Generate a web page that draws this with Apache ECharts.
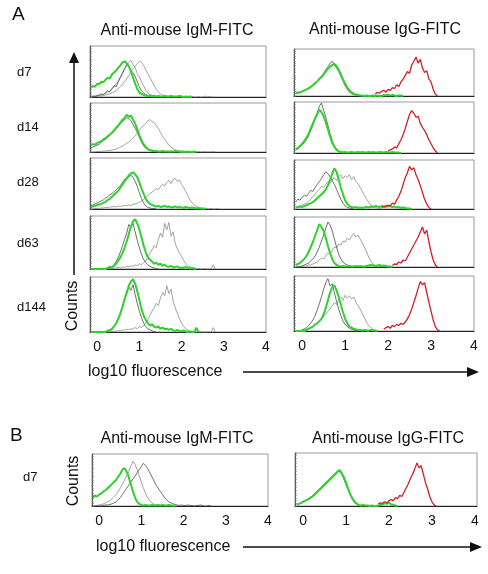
<!DOCTYPE html>
<html><head><meta charset="utf-8">
<script src="https://cdn.jsdelivr.net/npm/echarts@6/dist/echarts.min.js"></script>
<style>html,body{margin:0;padding:0;background:#fff}#c{width:488px;height:574px}</style>
</head><body><div id="c"></div>
<script>
// ---------- data (histogram heights, % of panel height; bins of 0.05 log10 units) ----------
const STEP = 0.05;
const GS = -0.15;               // first bin of green / gray arrays
const xTicks = [0, 1, 2, 3, 4];
const rowLabels = ['d7', 'd14', 'd28', 'd63', 'd144'];
const titles = ['Anti-mouse IgM-FITC', 'Anti-mouse IgG-FITC'];

// IgM panels (A, left column)
const igmD7Green = [18,22,20,26,25,30,29,34,38,36,44,48,52,57,62,68,70,66,60,50,38,26,16,9,6,4,3,2,3,1,2,1,2,1,1,2,1,1,2,1,1,1,2,1,0,1,0,1,0];
const igmD7GrayA = [1,2,1,3,4,6,5,9,12,10,16,22,20,30,38,46,55,64,60,52,48,40,30,20,12,8,5,3,2,1,2,1,0];
const igmD7GrayB = [0,1,2,2,3,4,5,7,9,12,16,20,26,32,40,48,56,62,68,72,64,58,46,40,30,22,14,8,5,3,2,1,1,0];
const igmD7GrayC = [0,0,1,1,2,2,3,4,5,6,8,10,13,16,20,25,30,36,42,50,56,60,66,70,68,62,54,46,38,30,22,15,10,6,4,3,2,1,2,1,1,1,2,1,0,1,1,0,1,0,0,1,0,0,2,0,1,0,0];

const igmD14Green = [14,16,15,18,20,22,26,28,32,36,40,44,50,54,60,66,70,76,72,74,66,58,46,34,24,16,10,6,4,3,2,2,1,1,2,1,1,1,1,1,2,1,1,0,1,0,1,0,0,1,0];
const igmD14GrayA = [8,10,12,14,16,20,24,26,30,34,38,42,48,52,58,62,66,70,68,64,56,48,40,30,20,12,8,5,3,2,1,1,0];
const igmD14GrayB = [0,0,0,1,1,1,2,2,3,3,4,5,6,8,10,12,15,18,20,24,28,34,38,44,50,54,58,64,66,62,60,54,48,40,32,26,20,14,10,7,5,3,2,2,1,1,1,0,1,0,0,1,0,0,1,0,0,0,1,0];

const igmD28Green = [4,5,6,8,9,10,12,14,18,20,24,28,32,36,42,48,54,60,64,70,72,68,62,52,40,30,20,14,10,8,6,5,6,4,5,6,4,5,3,4,5,3,4,3,2,4,3,2,3,2,1,2,1,1,0];
const igmD28GrayA = [6,8,10,12,14,16,18,22,24,28,30,34,38,42,46,52,58,62,68,66,62,54,44,32,20,12,6,3,2,1,1,0];
const igmD28GrayB = [0,0,1,1,1,2,2,3,3,4,4,5,4,6,5,6,7,6,8,7,9,10,11,13,16,19,22,26,30,33,36,40,38,44,48,45,52,56,50,58,60,54,57,48,42,34,26,18,12,8,5,3,2,1,2,1,0,1,0,0,1,0];

const igmD63Green = [0,0,0,0,0,0,0,0,2,4,3,6,10,16,22,30,40,52,66,80,90,94,86,74,60,44,32,22,18,14,10,12,8,10,6,8,5,4,6,3,4,5,2,3,2,4,2,1,2,1,0];
const igmD63GrayA = [0,0,0,0,0,0,0,0,0,2,4,8,14,22,32,44,56,68,84,78,86,70,54,40,28,18,12,8,5,3,2,1,0];
const igmD63GrayB = [0,0,0,0,0,0,0,0,0,0,1,2,2,3,2,4,3,5,4,6,5,8,6,10,8,12,16,22,30,36,44,40,56,68,60,86,74,88,62,70,48,38,30,24,16,10,6,4,2,1,0,1,0,0,1,0,0,0,8,0];

const igmD144Green = [0,0,0,0,0,0,0,0,3,2,6,10,16,24,34,46,60,72,84,92,96,88,74,58,42,30,22,16,12,14,10,8,10,6,8,5,6,4,6,3,2,4,2,1,3,1,0,1,0,0,8,0];
const igmD144GrayA = [0,0,0,0,0,0,0,0,2,4,6,10,16,24,34,46,58,70,82,76,86,68,52,38,26,16,10,6,4,2,1,0];
const igmD144GrayB = [0,0,0,0,0,0,0,0,0,0,1,2,1,3,2,4,3,5,4,6,5,8,6,10,8,12,16,22,30,38,44,52,48,62,72,66,84,70,78,56,44,34,24,16,10,6,3,2,1,0,0,0,0,0,0,0,0,0,8,0];

// IgG panels (A, right column)
const iggD7Green = [6,8,7,10,12,14,16,19,23,27,31,36,40,46,52,58,62,66,68,64,56,46,36,26,18,12,8,5,3,2,1,1,0,1,0,0,1,0,1,0,0,2,1,3,1,2,1,0,1,1,0];
const iggD7Gray  = [4,6,8,10,12,14,18,20,24,28,32,38,42,48,56,62,70,74,66,60,52,42,32,22,14,8,5,3,2,1,0];
const iggD7Red   = [4,8,6,10,12,8,14,12,18,16,24,20,30,36,44,52,48,66,74,83,70,78,60,50,54,36,30,14,4,0];

const iggD14Green = [8,10,14,18,24,30,38,48,58,68,76,85,80,72,60,46,32,20,12,6,3,2,1,2,1,1,2,1,1,2,1,2,1,1,2,1,2,1,1,2,1,1,2,1,1,2,1,1,1,0];
const iggD14Gray  = [6,8,12,16,20,26,34,44,54,66,78,92,98,84,70,54,38,24,14,8,4,2,1,1,0,1,0,1,0,0,1,0,0,1,0,1,1,0,1,1,2,1,0,1,1,0];
const iggD14Red   = [4,6,8,12,10,18,26,36,48,62,76,83,78,70,72,58,50,44,36,26,18,10,4,0];

const iggD28Green = [3,4,5,4,6,8,10,12,14,18,22,26,30,34,40,48,60,72,83,76,60,44,30,18,10,6,4,3,4,2,3,2,3,4,3,5,4,6,5,4,6,5,7,5,6,4,5,3,4,2,3,2,1,1,0];
const iggD28GrayA = [14,20,18,24,28,26,32,38,36,44,50,56,62,70,76,72,66,58,50,40,30,20,12,6,3,2,1,0];
const iggD28GrayB = [2,4,6,8,10,12,16,20,26,30,36,40,46,44,50,56,52,60,64,58,66,70,62,68,64,70,60,66,56,52,44,36,28,20,14,8,5,3,2,1,0];
const iggD28Red   = [3,5,4,8,6,12,10,18,26,36,50,64,74,87,80,84,70,60,48,34,20,10,3,0];

const iggD63Green = [4,6,8,12,16,22,30,40,50,62,74,86,80,72,58,42,28,16,8,4,2,1,2,1,1,2,1,1,2,1,2,1,1,2,3,4,3,2,3,4,2,3,2,1,1,0];
const iggD63GrayA = [0,0,1,2,4,6,8,12,16,22,30,40,52,64,78,90,84,72,56,40,26,16,10,6,4,2,1,0];
const iggD63GrayB = [0,0,0,1,2,2,4,4,6,8,10,14,18,16,22,28,26,34,40,38,46,44,52,50,58,54,62,67,60,64,56,48,40,30,20,12,6,3,2,1,0];
const iggD63Red   = [3,6,5,10,8,14,12,20,28,36,44,52,60,70,80,66,74,50,30,14,4,0];

const iggD144Green = [0,0,0,0,0,2,4,6,8,12,14,18,22,30,42,56,70,80,83,74,62,48,34,22,14,8,6,4,3,2,2,1,2,1,1,2,1,1,0];
const iggD144GrayA = [0,0,0,2,4,6,10,14,20,28,38,50,62,76,88,95,82,86,70,54,40,28,18,12,8,5,3,2,1,0];
const iggD144GrayB = [0,0,0,1,2,3,5,6,8,10,14,18,22,26,30,36,40,46,52,48,58,62,56,65,60,64,58,62,52,46,40,32,24,16,10,6,3,1,0];
const iggD144Red   = [3,6,8,5,10,8,12,10,14,12,16,22,30,40,52,64,78,90,84,88,70,52,36,20,8,2,0];

// B panels (d7)
const bIgmGreen = [16,20,18,22,24,28,30,34,38,42,46,50,56,62,70,73,66,56,42,28,16,8,4,2,1,2,1,1,2,1,1,2,1,2,1,1,2,1,1,0];
const bIgmGray1 = [0,0,1,2,3,4,6,8,10,14,18,22,28,34,42,50,58,66,76,86,80,70,58,46,34,24,16,10,6,3,2,1,0];
const bIgmGray2 = [0,0,0,0,0,1,2,2,3,4,6,8,12,16,22,28,34,40,46,52,58,64,70,76,82,78,72,64,56,48,40,34,28,22,16,12,8,6,4,3,2,1,2,1,1,2,1,1,0,1,1,2,1,0,0,1,0];
const bIggGreen = [3,4,6,8,10,12,14,17,20,24,28,32,36,40,44,48,52,56,60,64,68,62,54,44,32,22,14,8,4,2,1,2,1,1,0,1,0,0,1,2,3,5,4,6,3,2,1,0];
const bIggGray  = [2,4,5,8,10,12,16,18,22,26,30,34,38,42,46,50,54,58,62,66,64,60,50,40,30,20,12,6,3,1,0];
const bIggRed   = [4,6,5,8,6,10,12,10,16,14,20,18,26,34,42,52,60,70,81,72,76,60,44,32,18,8,2,0];

// first bin of each red histogram
const redStarts = { d7: 1.70, d14: 2.00, d28: 1.85, d63: 2.10, d144: 1.90, b: 1.75 };

// ---------- layout ----------
const FONT = '"Liberation Sans", Arial, sans-serif';
const LC = { left: 90, w: 176, min: -0.17, max: 4.0 };
const RC = { left: 294, w: 180, min: -0.19, max: 4.0 };
const panels = [
  { c: LC, top: 46,  h: 51, labels: false, s: [['lt', igmD7GrayC], ['lt', igmD7GrayB], ['dk', igmD7GrayA], ['gr', igmD7Green]] },
  { c: LC, top: 103, h: 49, labels: false, s: [['lt', igmD14GrayB], ['dk', igmD14GrayA], ['gr', igmD14Green]] },
  { c: LC, top: 158, h: 51, labels: false, s: [['lt', igmD28GrayB], ['dk', igmD28GrayA], ['gr', igmD28Green]] },
  { c: LC, top: 216, h: 53, labels: false, s: [['lt', igmD63GrayB], ['dk', igmD63GrayA], ['gr', igmD63Green]] },
  { c: LC, top: 277, h: 55, labels: true,  s: [['lt', igmD144GrayB], ['dk', igmD144GrayA], ['gr', igmD144Green]] },
  { c: RC, top: 49,  h: 47, labels: false, s: [['dk', iggD7Gray], ['gr', iggD7Green], ['rd', iggD7Red, redStarts.d7]] },
  { c: RC, top: 102, h: 51, labels: false, s: [['dk', iggD14Gray], ['gr', iggD14Green], ['rd', iggD14Red, redStarts.d14]] },
  { c: RC, top: 160, h: 49, labels: false, s: [['lt', iggD28GrayB], ['dk', iggD28GrayA], ['gr', iggD28Green], ['rd', iggD28Red, redStarts.d28]] },
  { c: RC, top: 217, h: 50, labels: false, s: [['lt', iggD63GrayB], ['dk', iggD63GrayA], ['gr', iggD63Green], ['rd', iggD63Red, redStarts.d63]] },
  { c: RC, top: 276, h: 55, labels: true,  s: [['lt', iggD144GrayB], ['dk', iggD144GrayA], ['gr', iggD144Green], ['rd', iggD144Red, redStarts.d144]] },
  { c: { left: 92, w: 176, min: -0.17, max: 4.0 }, top: 454, h: 52, labels: true, s: [['dk', bIgmGray2], ['lt', bIgmGray1], ['gr', bIgmGreen]] },
  { c: { left: 295, w: 182, min: -0.19, max: 4.05 }, top: 453, h: 53, labels: true, s: [['dk', bIggGray], ['gr', bIggGreen], ['rd', bIggRed, redStarts.b]] }
];
const STY = {
  lt: { color: '#8c8c8c', width: 0.8, z: 2 },
  dk: { color: '#4a4a4a', width: 0.8, z: 3 },
  gr: { color: '#2fd12f', width: 2, z: 4 },
  rd: { color: '#cf1f2b', width: 1.3, z: 4 }
};
function toXY(start, arr) { return arr.map((v, i) => [+(start + i * STEP).toFixed(3), v]); }

const grid = [], xAxis = [], yAxis = [], series = [];
panels.forEach((p, k) => {
  grid.push({ left: p.c.left, top: p.top, width: p.c.w, height: p.h, show: true, borderColor: '#9a9a9a', borderWidth: 1, backgroundColor: '#fff' });
  xAxis.push({
    type: 'value', gridIndex: k, min: p.c.min, max: p.c.max,
    axisLine: { show: true, onZero: false, lineStyle: { color: '#222', width: 1.2 } },
    axisTick: { show: false }, splitLine: { show: false },
    axisLabel: { show: p.labels, customValues: xTicks, margin: 8, fontSize: 14, color: '#111', fontFamily: FONT, formatter: v => String(v) }
  });
  yAxis.push({
    type: 'value', gridIndex: k, min: 0, max: 100, interval: 5,
    axisLine: { show: true, onZero: false, lineStyle: { color: '#555', width: 1 } },
    axisTick: { show: true, inside: true, length: 2, lineStyle: { color: '#777', width: 0.6 } },
    axisLabel: { show: false }, splitLine: { show: false }
  });
  p.s.forEach(s => {
    const st = STY[s[0]];
    series.push({
      type: 'line', xAxisIndex: k, yAxisIndex: k, showSymbol: false, silent: true, z: st.z,
      data: toXY(s[2] !== undefined ? s[2] : GS, s[1]),
      lineStyle: { color: st.color, width: st.width }
    });
  });
});

function txt(text, x, y, size, align, rot) {
  const o = { type: 'text', x: x, y: y, style: { text: text, font: size + 'px ' + FONT, fill: '#111', textAlign: align || 'left', textVerticalAlign: 'middle' } };
  if (rot) o.rotation = rot;
  return o;
}
const graphic = [
  txt('A', 12, 15, 19), txt(titles[0], 177, 31, 16, 'center'), txt(titles[1], 385, 30, 16, 'center'),
  txt(rowLabels[0], 17, 72, 13), txt(rowLabels[1], 17, 127, 13), txt(rowLabels[2], 17, 182, 13),
  txt(rowLabels[3], 17, 243, 13), txt(rowLabels[4], 17, 307, 13),
  txt('Counts', 73, 306, 16, 'center', Math.PI / 2),
  txt('log10 fluorescence', 88, 372, 16),
  { type: 'line', shape: { x1: 74, y1: 275, x2: 74, y2: 60 }, style: { stroke: '#111', lineWidth: 1.5 } },
  { type: 'polygon', shape: { points: [[74, 52], [69, 63], [79, 63]] }, style: { fill: '#111' } },
  { type: 'line', shape: { x1: 243, y1: 372, x2: 470, y2: 372 }, style: { stroke: '#111', lineWidth: 1.5 } },
  { type: 'polygon', shape: { points: [[479, 372], [467, 367], [467, 377]] }, style: { fill: '#111' } },
  txt('B', 10, 436, 19), txt(titles[0], 177, 439, 16, 'center'), txt(titles[1], 388, 439, 16, 'center'),
  txt(rowLabels[0], 23, 477, 13),
  txt('Counts', 74, 481, 16, 'center', Math.PI / 2),
  txt('log10 fluorescence', 96, 547, 16),
  { type: 'line', shape: { x1: 243, y1: 547, x2: 473, y2: 547 }, style: { stroke: '#111', lineWidth: 1.5 } },
  { type: 'polygon', shape: { points: [[482, 547], [470, 542], [470, 552]] }, style: { fill: '#111' } }
];

const chart = echarts.init(document.getElementById('c'), null, { renderer: 'canvas' });
chart.setOption({ animation: false, backgroundColor: '#fff', grid, xAxis, yAxis, series, graphic });
</script></body></html>
